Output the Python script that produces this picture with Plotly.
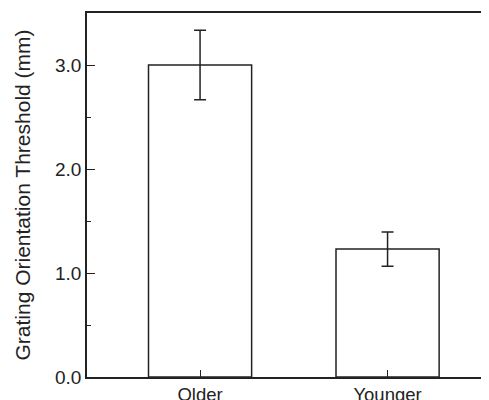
import plotly.graph_objects as go

groups = ["Older", "Younger"]
thresholds = [3.0, 1.23]
errors = [0.335, 0.165]
y_tick_vals = [0.0, 1.0, 2.0, 3.0]
y_tick_text = ["0.0", "1.0", "2.0", "3.0"]

font_family = "Liberation Sans, Arial, Helvetica, sans-serif"
line_col = "#222222"

fig = go.Figure()
fig.add_trace(go.Bar(
    x=groups,
    y=thresholds,
    width=0.55,
    marker=dict(color="white", line=dict(color=line_col, width=1.5)),
    error_y=dict(type="data", array=errors, visible=True,
                 color=line_col, thickness=1.5, width=6),
    showlegend=False,
))

# page body has an 8px default margin, so the figure is sized to fill the rest
fig.update_layout(
    width=481, height=392,
    margin=dict(l=79, r=0, t=5, b=23),
    plot_bgcolor="white", paper_bgcolor="white",
    font=dict(family=font_family, color="#222222", size=19),
    bargap=0.45,
)
fig.update_xaxes(
    range=[-0.603, 1.541], automargin=False,
    showline=True, linecolor=line_col, linewidth=1.5, mirror=True,
    ticks="inside", ticklen=7, tickwidth=1.2, tickcolor=line_col,
    tickfont=dict(size=18.5),
    showgrid=False, zeroline=False,
)
fig.update_yaxes(
    range=[0, 3.5], automargin=False,
    tickvals=y_tick_vals, ticktext=y_tick_text,
    showline=True, linecolor=line_col, linewidth=1.5, mirror=False,
    ticks="inside", ticklen=8, tickwidth=1.2, tickcolor=line_col,
    minor=dict(dtick=0.5, ticks="inside", ticklen=4, tickwidth=1.2, tickcolor=line_col, showgrid=False),
    tickfont=dict(size=19),
    title=dict(text="Grating Orientation Threshold (mm)", font=dict(size=21), standoff=19),
    showgrid=False, zeroline=False,
)

fig.write_html("out.html")
